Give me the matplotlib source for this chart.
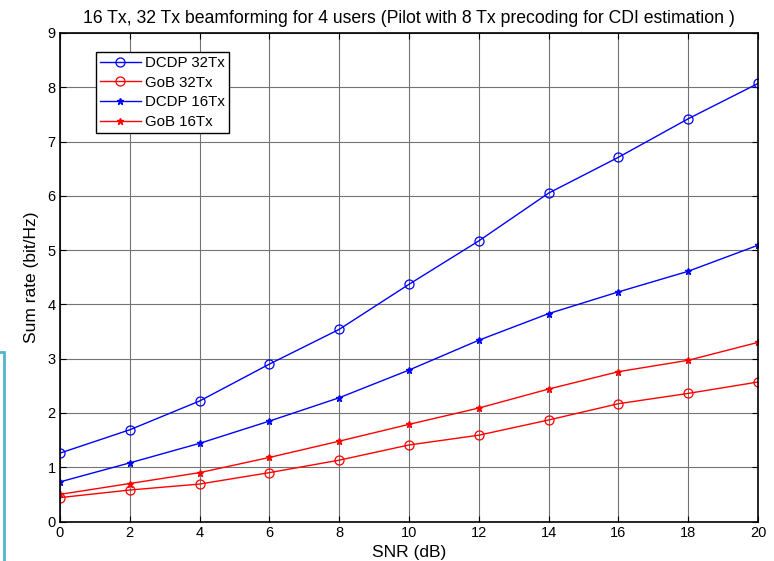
import numpy as np
import matplotlib
matplotlib.use('Agg')
import matplotlib.pyplot as plt
from matplotlib.patches import Rectangle

plt.rcParams['font.family'] = ['Liberation Sans', 'DejaVu Sans']

# SNR points (dB)
snr = [0, 2, 4, 6, 8, 10, 12, 14, 16, 18, 20]

# sum rate (bit/Hz)
dcdp_32 = [1.26, 1.69, 2.22, 2.90, 3.54, 4.37, 5.17, 6.05, 6.71, 7.42, 8.07]
gob_32 = [0.44, 0.58, 0.69, 0.90, 1.13, 1.41, 1.59, 1.87, 2.17, 2.36, 2.57]
dcdp_16 = [0.73, 1.08, 1.44, 1.85, 2.28, 2.79, 3.34, 3.83, 4.23, 4.61, 5.09]
gob_16 = [0.50, 0.70, 0.90, 1.18, 1.48, 1.79, 2.09, 2.44, 2.76, 2.97, 3.30]

labels = ['DCDP 32Tx', 'GoB 32Tx', 'DCDP 16Tx', 'GoB 16Tx']
xticks = list(range(0, 21, 2))
yticks = list(range(0, 10))

fig = plt.figure(figsize=(7.74, 5.61), dpi=100)
ax = fig.add_axes([60 / 774, 1 - 521.5 / 561, 698 / 774, 488.5 / 561])

ax.plot(snr, dcdp_32, '-o', color='#0000ff', lw=1, ms=6.5, mfc='none', mew=0.9, label=labels[0])
ax.plot(snr, gob_32, '-o', color='#ff0000', lw=1, ms=6.5, mfc='none', mew=0.9, label=labels[1])
ax.plot(snr, dcdp_16, '-*', color='#0000ff', lw=1, ms=5, label=labels[2])
ax.plot(snr, gob_16, '-*', color='#ff0000', lw=1, ms=5, label=labels[3])

ax.set_xlim(0, 20)
ax.set_ylim(0, 9)
ax.set_xticks(xticks)
ax.set_yticks(yticks)
ax.grid(True, color='0.45', lw=0.8)
ax.tick_params(direction='in', top=True, right=True, labelsize=10.5, length=4, pad=3)
for s in ax.spines.values():
    s.set_linewidth(1.2)

ax.set_xlabel('SNR (dB)', fontsize=12.5, labelpad=4)
ax.set_ylabel('Sum rate (bit/Hz)', fontsize=12.5, labelpad=6)
ax.set_title('16 Tx, 32 Tx beamforming for 4 users (Pilot with 8 Tx precoding for CDI estimation )',
             fontsize=12.7, pad=7)

leg = ax.legend(loc='upper left', bbox_to_anchor=(0.052, 0.961), borderaxespad=0,
                fontsize=10.8, fancybox=False, edgecolor='black', framealpha=1,
                handlelength=2.7, handletextpad=0.3, labelspacing=0.38,
                borderpad=0.25)
leg.get_frame().set_linewidth(1.0)

# light blue edge of a box cut off on the left of the screenshot
fig.add_artist(Rectangle((-20 / 774, -0.1), 24 / 774, 1.1 - 352 / 561,
                         transform=fig.transFigure, fill=False,
                         edgecolor='#52b4cc', lw=2, clip_on=False))

fig.savefig('out.png', dpi=100)
